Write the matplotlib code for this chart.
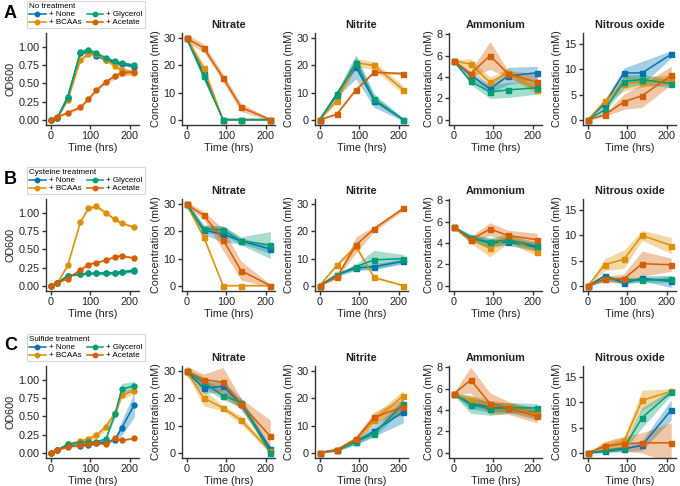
import numpy as np
import matplotlib
matplotlib.use("Agg")
import matplotlib.pyplot as plt
from matplotlib.lines import Line2D

series = ["+ None", "+ BCAAs", "+ Glycerol", "+ Acetate"]
colors = ["#0173B2", "#DE8F05", "#029E73", "#D55E00"]
row_letters = ["A", "B", "C"]
row_titles = ["No treatment", "Cysteine treatment", "Sulfide treatment"]
col_titles = ["", "Nitrate", "Nitrite", "Ammonium", "Nitrous oxide"]
t_od = [0, 17, 43, 75, 95, 116, 140, 163, 180, 212]
t_conc = [0, 43, 92, 138, 212]

# ---------------- Row A: No treatment ----------------
A_od = {"None": [0, 0.03, 0.32, 0.91, 0.93, 0.88, 0.82, 0.78, 0.76, 0.73],
        "BCAAs": [0, 0.03, 0.27, 0.82, 0.90, 0.90, 0.82, 0.74, 0.68, 0.64],
        "Glycerol": [0, 0.03, 0.30, 0.93, 0.96, 0.91, 0.85, 0.80, 0.78, 0.75],
        "Acetate": [0, 0.04, 0.10, 0.17, 0.28, 0.41, 0.52, 0.60, 0.64, 0.66]}
A_od_err = {"None": [0.01, 0.01, 0.02, 0.02, 0.02, 0.02, 0.02, 0.02, 0.02, 0.02],
            "BCAAs": [0.01, 0.01, 0.02, 0.03, 0.03, 0.02, 0.02, 0.03, 0.04, 0.04],
            "Glycerol": [0.01, 0.01, 0.02, 0.03, 0.03, 0.03, 0.02, 0.02, 0.02, 0.02],
            "Acetate": [0.01, 0.01, 0.02, 0.02, 0.02, 0.02, 0.03, 0.04, 0.04, 0.04]}
A_nitrate = {"None": [30, 17, 0, 0, 0], "BCAAs": [30, 19, 0, 0, 0],
             "Glycerol": [30, 16, 0, 0, 0], "Acetate": [30, 26.5, 15.5, 4.5, 0]}
A_nitrate_err = {"None": [1, 1.5, 0.3, 0.3, 0.3], "BCAAs": [1, 1.5, 0.3, 0.3, 0.3],
                 "Glycerol": [1, 1.5, 0.3, 0.3, 0.3], "Acetate": [1.5, 1.5, 1.5, 1.5, 0.5]}
A_nitrite = {"None": [0, 9.5, 19.5, 7, 0], "BCAAs": [0, 7, 21, 20, 11],
             "Glycerol": [0, 9, 21, 7.5, 0], "Acetate": [0, 2, 11, 17.5, 17]}
A_nitrite_err = {"None": [0.2, 1, 4.5, 2.5, 0.5], "BCAAs": [0.2, 1, 1.5, 1.5, 1.5],
                 "Glycerol": [0.2, 1, 2, 1, 0.5], "Acetate": [0.2, 0.5, 0.5, 0.5, 0.5]}
A_ammonium = {"None": [5.5, 4.2, 2.9, 4.1, 4.4], "BCAAs": [5.5, 5.2, 3.5, 4.4, 2.8],
              "Glycerol": [5.5, 3.6, 2.6, 2.8, 3.0], "Acetate": [5.5, 4.3, 6.0, 4.3, 3.5]}
A_ammonium_err = {"None": [0.1, 0.3, 0.4, 0.8, 0.6], "BCAAs": [0.1, 0.5, 0.5, 0.4, 0.4],
                  "Glycerol": [0.1, 0.3, 0.6, 0.7, 0.6], "Acetate": [0.1, 0.3, 1.3, 0.3, 0.8]}
A_n2o = {"None": [0, 3.2, 9.3, 9.3, 13], "BCAAs": [0, 3.7, 7.2, 7.5, 8.0],
         "Glycerol": [0, 2.0, 7.6, 8.0, 7.2], "Acetate": [0, 1.0, 3.6, 4.8, 8.8]}
A_n2o_err = {"None": [0.1, 0.7, 1.0, 2.3, 0.7], "BCAAs": [0.1, 0.5, 1.5, 1.0, 1.0],
             "Glycerol": [0.1, 0.5, 1.3, 1.0, 0.8], "Acetate": [0.1, 0.3, 1.5, 2.3, 1.8]}

# ---------------- Row B: Cysteine treatment ----------------
B_od = {"None": [0, 0.04, 0.14, 0.16, 0.17, 0.17, 0.18, 0.17, 0.19, 0.20],
        "BCAAs": [0, 0.04, 0.28, 0.87, 1.06, 1.09, 1.00, 0.91, 0.86, 0.80],
        "Glycerol": [0, 0.04, 0.14, 0.16, 0.17, 0.17, 0.17, 0.18, 0.19, 0.22],
        "Acetate": [0, 0.04, 0.10, 0.22, 0.29, 0.32, 0.35, 0.40, 0.41, 0.38]}
B_od_err = {"None": [0.01, 0.01, 0.01, 0.01, 0.01, 0.02, 0.03, 0.02, 0.02, 0.02],
            "BCAAs": [0.01, 0.01, 0.02, 0.02, 0.03, 0.03, 0.02, 0.02, 0.02, 0.02],
            "Glycerol": [0.01, 0.01, 0.01, 0.01, 0.01, 0.01, 0.02, 0.02, 0.02, 0.02],
            "Acetate": [0.01, 0.01, 0.01, 0.01, 0.01, 0.01, 0.01, 0.01, 0.01, 0.02]}
B_nitrate = {"None": [30, 20.5, 19, 16.5, 13.5], "BCAAs": [30, 18, 0, 0, 0],
             "Glycerol": [30, 21, 20.5, 16.5, 15], "Acetate": [30, 26, 17, 5.5, 0]}
B_nitrate_err = {"None": [1, 1.5, 3, 1, 1.5], "BCAAs": [1, 1, 0.3, 0.3, 0.3],
                 "Glycerol": [1, 1.5, 1.5, 1.5, 5], "Acetate": [1, 1.5, 4, 3.5, 0.5]}
B_nitrite = {"None": [0, 4, 6.5, 7, 9], "BCAAs": [0, 7.5, 14.5, 3, 0],
             "Glycerol": [0, 4, 7, 9.5, 10], "Acetate": [0, 3, 15, 21, 28.5]}
B_nitrite_err = {"None": [0.1, 0.5, 1, 1, 1], "BCAAs": [0.1, 0.5, 1, 0.5, 0.3],
                 "Glycerol": [0.1, 0.5, 1, 3.5, 1.5], "Acetate": [0.1, 0.5, 3, 1, 0.8]}
B_ammonium = {"None": [5.5, 4.5, 4.0, 4.1, 3.6], "BCAAs": [5.5, 4.3, 3.5, 4.5, 3.2],
              "Glycerol": [5.5, 4.5, 4.1, 4.3, 3.7], "Acetate": [5.5, 4.3, 5.3, 4.7, 4.3]}
B_ammonium_err = {"None": [0.1, 0.3, 0.4, 0.3, 0.4], "BCAAs": [0.1, 0.3, 0.8, 0.5, 0.4],
                  "Glycerol": [0.1, 0.3, 0.4, 0.4, 0.4], "Acetate": [0.1, 0.3, 0.6, 0.5, 0.6]}
B_n2o = {"None": [0, 2.0, 0.6, 1.5, 0.9], "BCAAs": [0, 4.2, 5.3, 10, 8],
         "Glycerol": [0, 1.3, 1.3, 1.1, 1.3], "Acetate": [0, 1.4, 1.4, 4.4, 4.2]}
B_n2o_err = {"None": [0.1, 0.5, 0.4, 0.5, 1.2], "BCAAs": [0.1, 1.2, 1.8, 1.0, 1.6],
             "Glycerol": [0.1, 0.5, 0.5, 0.5, 0.6], "Acetate": [0.1, 0.5, 1.0, 2.5, 1.3]}

# ---------------- Row C: Sulfide treatment ----------------
C_od = {"None": [0, 0.04, 0.10, 0.10, 0.11, 0.13, 0.15, 0.18, 0.34, 0.66],
        "BCAAs": [0, 0.04, 0.12, 0.16, 0.19, 0.24, 0.36, 0.54, 0.79, 0.85],
        "Glycerol": [0, 0.04, 0.12, 0.14, 0.15, 0.15, 0.19, 0.53, 0.87, 0.92],
        "Acetate": [0, 0.04, 0.08, 0.11, 0.12, 0.13, 0.12, 0.20, 0.17, 0.20]}
C_od_err = {"None": [0.01, 0.01, 0.02, 0.02, 0.02, 0.02, 0.02, 0.03, 0.10, 0.17],
            "BCAAs": [0.01, 0.01, 0.02, 0.02, 0.03, 0.04, 0.05, 0.05, 0.05, 0.05],
            "Glycerol": [0.01, 0.01, 0.02, 0.02, 0.02, 0.02, 0.03, 0.05, 0.08, 0.06],
            "Acetate": [0.01, 0.01, 0.01, 0.01, 0.01, 0.01, 0.01, 0.01, 0.01, 0.01]}
C_nitrate = {"None": [30, 23.8, 24.5, 18, 1.5], "BCAAs": [30, 20.2, 16.5, 12, 0.5],
             "Glycerol": [30, 26, 21, 18.5, 0], "Acetate": [30, 27, 26, 18, 6]}
C_nitrate_err = {"None": [1, 2, 2, 2, 1], "BCAAs": [1, 3, 1, 1.5, 1],
                 "Glycerol": [1, 2, 1.5, 1.5, 1], "Acetate": [2, 2, 5.5, 2, 6]}
C_nitrite = {"None": [0, 1, 4, 8, 15], "BCAAs": [0, 1, 5, 12, 21],
             "Glycerol": [0, 1, 4, 7, 18], "Acetate": [0, 1, 5, 13, 17]}
C_nitrite_err = {"None": [0.2, 0.5, 1, 2, 4], "BCAAs": [0.2, 0.5, 1, 2, 2],
                 "Glycerol": [0.2, 0.5, 1, 1, 2], "Acetate": [0.2, 0.5, 1, 2, 3]}
C_ammonium = {"None": [5.5, 4.6, 4.3, 4.2, 3.7], "BCAAs": [5.5, 4.9, 4.4, 4.3, 3.6],
              "Glycerol": [5.5, 4.5, 4.1, 4.2, 4.2], "Acetate": [5.5, 6.8, 4.6, 4.2, 3.4]}
C_ammonium_err = {"None": [0.1, 0.5, 0.5, 0.4, 0.6], "BCAAs": [0.1, 0.5, 0.5, 0.4, 0.4],
                  "Glycerol": [0.1, 0.8, 0.6, 0.5, 0.4], "Acetate": [0.1, 1.2, 1.0, 0.6, 0.6]}
C_n2o = {"None": [0, 0.3, 0.8, 1.5, 8.5], "BCAAs": [0, 1.3, 2.3, 10.4, 12.2],
         "Glycerol": [0, 0.5, 1.0, 7, 12], "Acetate": [0, 1.3, 1.8, 2.0, 2.0]}
C_n2o_err = {"None": [0.1, 0.3, 0.5, 1, 2], "BCAAs": [0.1, 0.8, 0.8, 2, 0.5],
             "Glycerol": [0.1, 0.3, 0.5, 2, 0.5], "Acetate": [0.1, 1, 1.5, 2, 4]}

rows = [
    [(A_od, A_od_err), (A_nitrate, A_nitrate_err), (A_nitrite, A_nitrite_err),
     (A_ammonium, A_ammonium_err), (A_n2o, A_n2o_err)],
    [(B_od, B_od_err), (B_nitrate, B_nitrate_err), (B_nitrite, B_nitrite_err),
     (B_ammonium, B_ammonium_err), (B_n2o, B_n2o_err)],
    [(C_od, C_od_err), (C_nitrate, C_nitrate_err), (C_nitrite, C_nitrite_err),
     (C_ammonium, C_ammonium_err), (C_n2o, C_n2o_err)],
]

ylims = [(-0.07, 1.19), (-2, 32), (-2, 32), (-0.47, 8.1), (-1, 17.2)]
yticks = [[0, 0.25, 0.5, 0.75, 1.0], [0, 10, 20, 30], [0, 10, 20, 30],
          [0, 2, 4, 6, 8], [0, 5, 10, 15]]
ytick_labels = [["0.00", "0.25", "0.50", "0.75", "1.00"], None, None, None, None]

plt.rcParams['font.family'] = ['Liberation Sans', 'DejaVu Sans']
W, H = 680, 486
fig = plt.figure(figsize=(W / 100, H / 100), dpi=100)
txt = "#222222"
FS = 7.8

col_left = [46, 182, 315, 449, 583]
ax_w = 93
row_top = [33, 199, 366]
ax_h = 92

for r in range(3):
    for c in range(5):
        x0 = col_left[c] / W
        y0 = 1 - (row_top[r] + ax_h) / H
        ax = fig.add_axes([x0, y0, ax_w / W, ax_h / H])
        means, errs = rows[r][c]
        t = t_od if c == 0 else t_conc
        mk = "o" if c == 0 else "s"
        for k, name in enumerate(["None", "BCAAs", "Glycerol", "Acetate"]):
            m = np.array(means[name], dtype=float)
            e = np.array(errs[name], dtype=float)
            ax.fill_between(t, m - e, m + e, color=colors[k], alpha=0.35, lw=0)
            ax.plot(t, m, color=colors[k], marker=mk, ms=3.6, lw=1.1)
        ax.set_xlim(-12, 224)
        ax.set_ylim(*ylims[c])
        ax.set_xticks([0, 100, 200])
        ax.set_yticks(yticks[c])
        if ytick_labels[c]:
            ax.set_yticklabels(ytick_labels[c])
        for s in ["top", "right"]:
            ax.spines[s].set_visible(False)
        for s in ["left", "bottom"]:
            ax.spines[s].set_color("#333333")
            ax.spines[s].set_linewidth(1.0)
        ax.tick_params(labelsize=FS, colors="#333333", labelcolor=txt, length=3, width=1, pad=1.5)
        ax.set_xlabel("Time (hrs)", fontsize=FS, color=txt, labelpad=1)
        ax.set_ylabel("OD600" if c == 0 else "Concentration (mM)", fontsize=FS,
                      color=txt, labelpad=2)
        if c > 0:
            ax.set_title(col_titles[c], fontsize=FS, fontweight="bold", color=txt, pad=3.5)
        else:
            handles = [Line2D([], [], color=colors[k], marker="o", ms=3.2, lw=1.1)
                       for k in range(4)]
            leg = ax.legend(handles, series, title=row_titles[r], ncol=2, fontsize=5.8,
                            title_fontsize=5.8, loc="lower left",
                            bbox_to_anchor=(-0.2, 1.05), frameon=True, fancybox=False,
                            edgecolor="#cccccc", borderpad=0.25, labelspacing=0.05,
                            handlelength=2.0, handletextpad=0.4, columnspacing=0.7,
                            alignment="left", borderaxespad=0)
            leg.get_frame().set_linewidth(0.8)
    fig.text(4 / W, 1 - (row_top[r] - 20) / H, row_letters[r], fontsize=13,
             fontweight="bold", color="black", va="center", ha="left")

fig.savefig("out.png", dpi=100)
